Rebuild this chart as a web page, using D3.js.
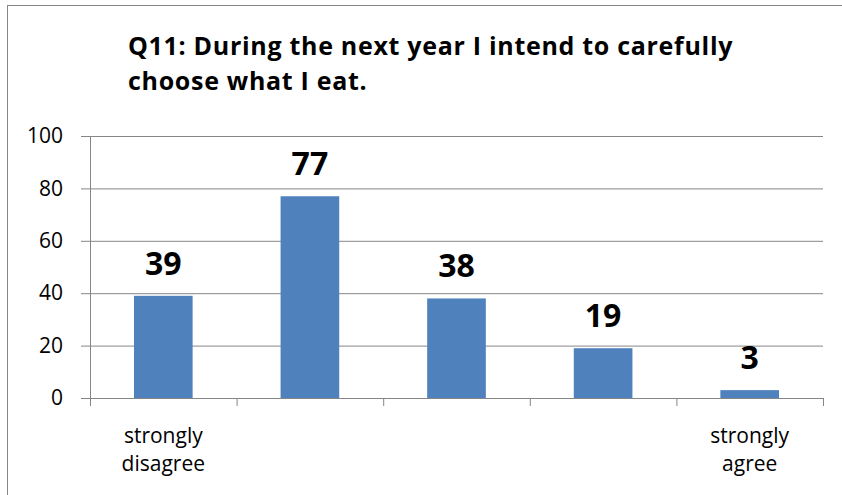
<!DOCTYPE html>
<html>
<head>
<meta charset="utf-8">
<script src="https://cdn.jsdelivr.net/npm/d3@7"></script>
<style>
  body { margin: 0; background: #fff; }
  svg { display: block; }
  .axis path, .axis line { stroke: #868686; }
  .grid path { display: none; }
  .grid line { stroke: #868686; }
  text { font-family: "Open Sans", sans-serif; fill: #000; }
</style>
</head>
<body>
<div id="chart"></div>
<script>
// chart data
const titleLines = ['Q11: During the next year I intend to carefully', 'choose what I eat.'];
const categories = ['1', '2', '3', '4', '5'];
const values = [39, 77, 38, 19, 3];
const categoryLabels = [['strongly', 'disagree'], [], [], [], ['strongly', 'agree']];
const yTicks = [0, 20, 40, 60, 80, 100];

const width = 842, height = 495;
const margin = {top: 136, right: 19, bottom: 97, left: 90};
const innerW = width - margin.left - margin.right;
const innerH = height - margin.top - margin.bottom;

const svg = d3.select('#chart').append('svg')
  .attr('width', width)
  .attr('height', height);

// outer chart border (only top and left edges are visible)
svg.append('rect')
  .attr('x', 7.5).attr('y', 5.5)
  .attr('width', 1000).attr('height', 1000)
  .attr('fill', 'none')
  .attr('stroke', '#868686');

svg.append('text')
  .attr('font-weight', 'bold')
  .attr('font-size', 25)
  .attr('letter-spacing', 0.7)
  .selectAll('tspan').data(titleLines).join('tspan')
    .attr('x', 128)
    .attr('y', (d, i) => 55 + i * 35)
    .text(d => d);

const g = svg.append('g').attr('transform', `translate(${margin.left},${margin.top})`);

const y = d3.scaleLinear().domain([0, 100]).range([innerH, 0]);
const x = d3.scaleBand().domain(categories).range([0, innerW])
  .paddingInner(0.6).paddingOuter(0.3);
const xEdge = d3.scaleLinear().domain([0, categories.length]).range([0, innerW]);

// gridlines
g.append('g').attr('class', 'grid')
  .call(d3.axisLeft(y).tickValues(yTicks).tickSize(-innerW).tickFormat(''));

// y axis with ticks and labels
g.append('g').attr('class', 'axis')
  .call(d3.axisLeft(y).tickValues(yTicks).tickSizeInner(9).tickSizeOuter(0).tickPadding(18))
  .selectAll('text')
    .attr('font-size', 21)
    .attr('font-family', '"Open Sans", sans-serif');

// x axis with ticks between categories
g.append('g').attr('class', 'axis')
  .attr('transform', `translate(0,${innerH})`)
  .call(d3.axisBottom(xEdge).tickValues(d3.range(categories.length + 1)).tickSizeInner(8).tickSizeOuter(0).tickFormat(''));

// bars
g.selectAll('.bar').data(values).join('rect')
  .attr('class', 'bar')
  .attr('x', (d, i) => x(categories[i]))
  .attr('y', d => y(d))
  .attr('width', x.bandwidth())
  .attr('height', d => innerH - y(d))
  .attr('fill', '#4f81bd');

// value labels
g.selectAll('.value').data(values).join('text')
  .attr('class', 'value')
  .attr('x', (d, i) => x(categories[i]) + x.bandwidth() / 2)
  .attr('y', d => y(d) - 21)
  .attr('text-anchor', 'middle')
  .attr('font-weight', 'bold')
  .attr('font-size', 32)
  .text(d => d);

// category labels
const labelG = g.selectAll('.cat').data(categoryLabels).join('text')
  .attr('class', 'cat')
  .attr('text-anchor', 'middle')
  .attr('font-size', 21);
labelG.selectAll('tspan').data((d, i) => d.map(t => ({t, i}))).join('tspan')
  .attr('x', d => x(categories[d.i]) + x.bandwidth() / 2)
  .attr('y', (d, j) => innerH + 45 + j * 28)
  .text(d => d.t);
</script>
</body>
</html>
